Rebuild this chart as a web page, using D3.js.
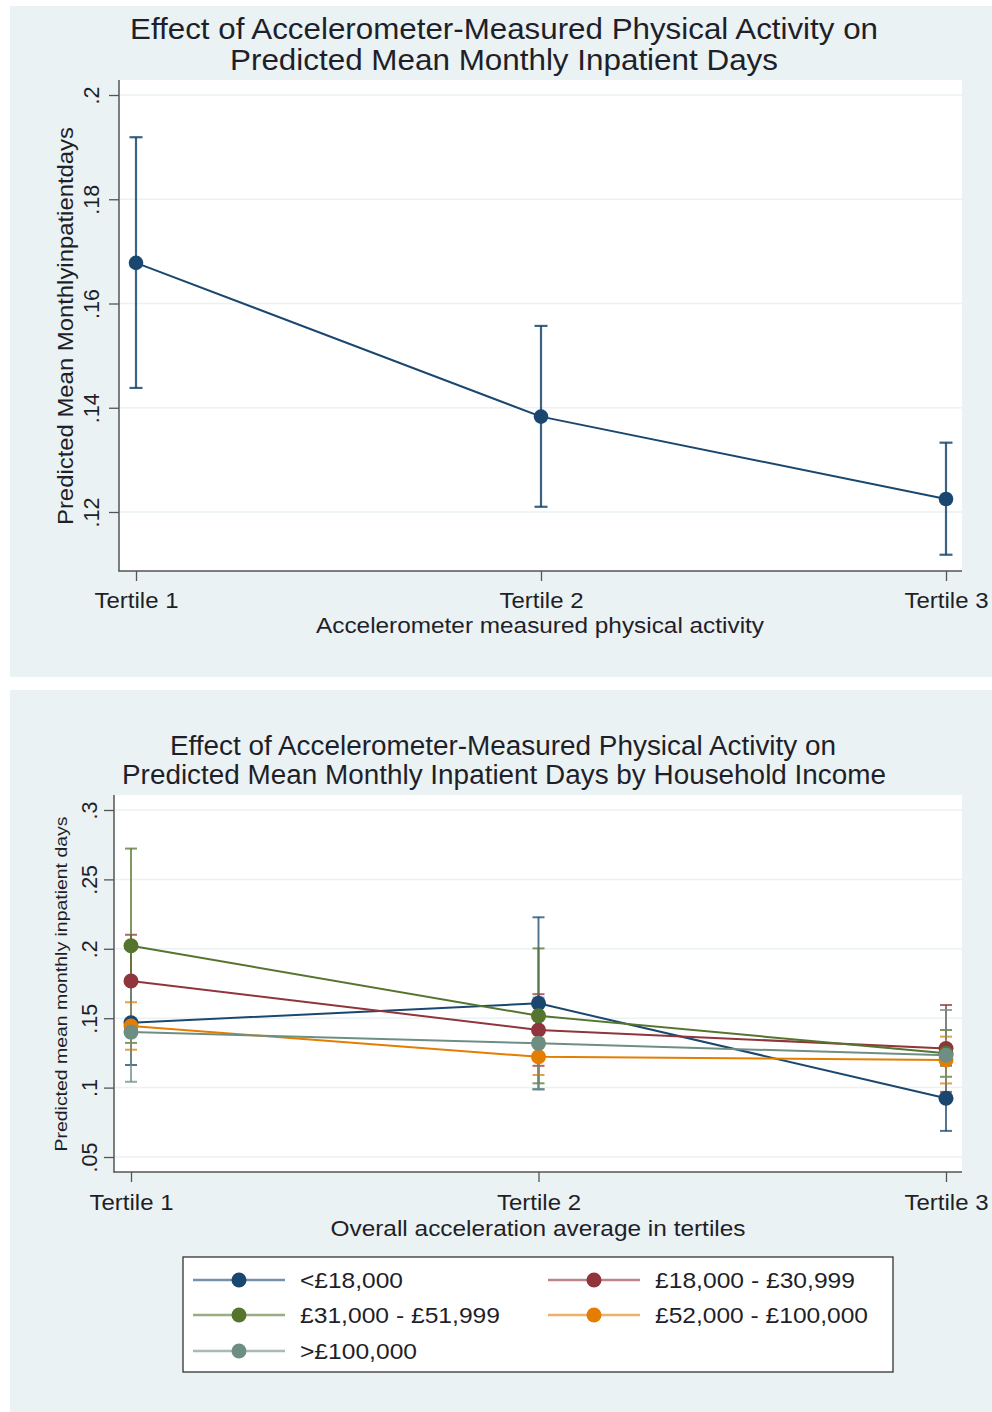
<!DOCTYPE html>
<html>
<head>
<meta charset="utf-8">
<script src="https://cdn.jsdelivr.net/npm/d3@7"></script>
<style>
  html, body { margin: 0; padding: 0; background: #ffffff; }
  svg { display: block; font-family: "Liberation Sans", Arial, sans-serif; }
</style>
</head>
<body>
<svg id="chart" width="992" height="1412"></svg>
<script>
// ---------------- DATA ----------------
const tertiles = ["Tertile 1", "Tertile 2", "Tertile 3"];

// Panel 1: overall
const overallMean = [0.1678, 0.1383, 0.1225];
const overallLo   = [0.1438, 0.1210, 0.1118];
const overallHi   = [0.1919, 0.1557, 0.1333];
const topTicks = [0.12, 0.14, 0.16, 0.18, 0.20];

// Panel 2: by household income
const incomeGroups = ["<£18,000", "£18,000 - £30,999", "£31,000 - £51,999", "£52,000 - £100,000", ">£100,000"];
const meanLt18  = [0.1467, 0.1607, 0.0923];
const mean18_31 = [0.1768, 0.1415, 0.1282];
const mean31_52 = [0.2022, 0.1517, 0.1247];
const mean52_100= [0.1444, 0.1222, 0.1199];
const meanGt100 = [0.1400, 0.1319, 0.1233];
const loLt18  = [0.1163, 0.0987, 0.0688];
const lo18_31 = [0.1435, 0.1157, 0.0969];
const lo31_52 = [0.1322, 0.1031, 0.1078];
const lo52_100= [0.1273, 0.1091, 0.1030];
const loGt100 = [0.1042, 0.0990, 0.0907];
const hiLt18  = [0.1771, 0.2227, 0.1158];
const hi18_31 = [0.2101, 0.1673, 0.1595];
const hi31_52 = [0.2722, 0.2003, 0.1415];
const hi52_100= [0.1615, 0.1353, 0.1367];
const hiGt100 = [0.1758, 0.1648, 0.1559];
const bottomTicks = [0.05, 0.10, 0.15, 0.20, 0.25, 0.30];

// ---------------- STYLE ----------------
const colors = ["#1a476f", "#90353b", "#55752f", "#e37e00", "#6e8e84"];
const bg = "#eaf2f3";
const axisCol = "#555555";
const textCol = "#1f1f2a";

const means = [meanLt18, mean18_31, mean31_52, mean52_100, meanGt100];
const los = [loLt18, lo18_31, lo31_52, lo52_100, loGt100];
const his = [hiLt18, hi18_31, hi31_52, hi52_100, hiGt100];
const series = incomeGroups.map((g, i) => ({
  name: g, color: colors[i],
  pts: tertiles.map((t, j) => ({t, m: means[i][j], lo: los[i][j], hi: his[i][j]}))
}));

const svg = d3.select("#chart");
const fmt = v => { let s = d3.format(".2f")(v).replace(/0+$/, "").replace(/\.$/, ""); return s.replace(/^0\./, "."); };

function fitText(sel, w) {
  sel.attr("textLength", w).attr("lengthAdjust", "spacingAndGlyphs");
  return sel;
}

// ---------------- PANEL BACKGROUNDS ----------------
svg.append("rect").attr("x", 10).attr("y", 6).attr("width", 992).attr("height", 671).attr("fill", bg);
svg.append("rect").attr("x", 10).attr("y", 690).attr("width", 992).attr("height", 722).attr("fill", bg);

function panel(cfg) {
  const g = svg.append("g");
  const {x0, x1, y0, y1} = cfg;
  g.append("rect").attr("x", x0).attr("y", y0).attr("width", x1 - x0).attr("height", y1 - y0).attr("fill", "#ffffff");

  const y = d3.scaleLinear().domain(cfg.yDomain).range([y1, y0]);
  const x = d3.scalePoint().domain(tertiles).range([x0 + 17, x1 - 16]);

  // grid
  g.selectAll(".grid").data(cfg.ticks).join("line")
    .attr("x1", x0 + 1).attr("x2", x1).attr("y1", d => y(d)).attr("y2", d => y(d))
    .attr("stroke", bg).attr("stroke-width", 1.5);

  // y axis
  const ya = g.append("g").attr("transform", `translate(${x0},0)`)
    .call(d3.axisLeft(y).tickValues(cfg.ticks).tickSize(10).tickFormat(fmt));
  ya.select(".domain").remove();
  ya.selectAll(".tick line").attr("stroke", axisCol).attr("stroke-width", 1.3);
  ya.selectAll(".tick text").attr("fill", textCol).attr("font-size", 21.5)
    .attr("text-anchor", "middle").attr("x", 0).attr("dy", 0)
    .attr("transform", `translate(${cfg.tickLabelX - x0},0) rotate(-90)`)
    .attr("font-family", "Liberation Sans, Arial, sans-serif");
  g.append("line").attr("x1", x0).attr("x2", x0).attr("y1", y0).attr("y2", y1 + 0.5)
    .attr("stroke", axisCol).attr("stroke-width", 1.5);

  // x axis
  const xa = g.append("g").attr("transform", `translate(0,${y1})`)
    .call(d3.axisBottom(x).tickSize(10).tickSizeOuter(0));
  xa.select(".domain").remove();
  xa.selectAll(".tick line").attr("stroke", axisCol).attr("stroke-width", 1.3);
  xa.selectAll(".tick text").attr("fill", textCol).attr("font-size", 22)
    .attr("y", cfg.xLabelDy).attr("dy", 0)
    .attr("font-family", "Liberation Sans, Arial, sans-serif")
    .attr("textLength", 84).attr("lengthAdjust", "spacingAndGlyphs");
  g.append("line").attr("x1", x0 - 0.5).attr("x2", x1).attr("y1", y1).attr("y2", y1)
    .attr("stroke", axisCol).attr("stroke-width", 1.5);

  // titles
  cfg.title.forEach((t, i) => {
    fitText(g.append("text").attr("x", t.cx).attr("y", t.y).attr("text-anchor", "middle")
      .attr("font-size", t.size).attr("fill", textCol).text(t.text), t.w);
  });
  fitText(g.append("text").attr("x", cfg.xTitle.cx).attr("y", cfg.xTitle.y).attr("text-anchor", "middle")
    .attr("font-size", cfg.xTitle.size).attr("fill", textCol).text(cfg.xTitle.text), cfg.xTitle.w);
  fitText(g.append("text").attr("transform", `translate(${cfg.yTitle.x},${cfg.yTitle.cy}) rotate(-90)`)
    .attr("text-anchor", "middle").attr("font-size", cfg.yTitle.size).attr("fill", textCol)
    .text(cfg.yTitle.text), cfg.yTitle.w);

  return {g, x, y};
}

// ---------------- PANEL 1 ----------------
{
  const p = panel({
    x0: 119, x1: 962, y0: 80, y1: 571,
    yDomain: [0.10868, 0.20288], ticks: topTicks, tickLabelX: 99, xLabelDy: 37,
    title: [
      {text: "Effect of Accelerometer-Measured Physical Activity on", cx: 504, y: 39, size: 30, w: 748},
      {text: "Predicted Mean Monthly Inpatient Days", cx: 504, y: 70, size: 30, w: 548}
    ],
    xTitle: {text: "Accelerometer measured physical activity", cx: 540, y: 633, size: 22.5, w: 448},
    yTitle: {text: "Predicted Mean Monthlyinpatientdays", x: 73, cy: 326, size: 22, w: 398}
  });
  const pts = tertiles.map((t, j) => ({t, m: overallMean[j], lo: overallLo[j], hi: overallHi[j]}));
  const c = colors[0];
  const ci = p.g.append("g");
  ci.selectAll("line.sp").data(pts).join("line")
    .attr("x1", d => p.x(d.t)).attr("x2", d => p.x(d.t))
    .attr("y1", d => p.y(d.lo)).attr("y2", d => p.y(d.hi))
    .attr("stroke", c).attr("stroke-width", 2.2).attr("stroke-opacity", 0.85);
  ["lo", "hi"].forEach(k => {
    ci.selectAll("line.cap" + k).data(pts).join("line")
      .attr("x1", d => p.x(d.t) - 6.5).attr("x2", d => p.x(d.t) + 6.5)
      .attr("y1", d => p.y(d[k])).attr("y2", d => p.y(d[k]))
      .attr("stroke", c).attr("stroke-width", 2.2).attr("stroke-opacity", 0.85);
  });
  p.g.append("path").datum(pts)
    .attr("d", d3.line().x(d => p.x(d.t)).y(d => p.y(d.m)))
    .attr("fill", "none").attr("stroke", c).attr("stroke-width", 2);
  p.g.selectAll("circle.pt").data(pts).join("circle")
    .attr("cx", d => p.x(d.t)).attr("cy", d => p.y(d.m)).attr("r", 7.3).attr("fill", c);
}

// ---------------- PANEL 2 ----------------
{
  const p = panel({
    x0: 114, x1: 962, y0: 795, y1: 1172,
    yDomain: [0.0392, 0.3108], ticks: bottomTicks, tickLabelX: 97, xLabelDy: 38,
    title: [
      {text: "Effect of Accelerometer-Measured Physical Activity on", cx: 503, y: 755, size: 27, w: 666},
      {text: "Predicted Mean Monthly Inpatient Days by Household Income", cx: 504, y: 784, size: 27, w: 764}
    ],
    xTitle: {text: "Overall acceleration average in tertiles", cx: 538, y: 1236, size: 22, w: 415},
    yTitle: {text: "Predicted mean monthly inpatient days", x: 67, cy: 984, size: 17, w: 335}
  });
  // CIs first
  series.forEach(s => {
    const ci = p.g.append("g");
    ci.selectAll("line.sp").data(s.pts).join("line")
      .attr("x1", d => p.x(d.t)).attr("x2", d => p.x(d.t))
      .attr("y1", d => p.y(d.lo)).attr("y2", d => p.y(d.hi))
      .attr("stroke", s.color).attr("stroke-width", 2).attr("stroke-opacity", 0.75);
    ["lo", "hi"].forEach(k => {
      ci.selectAll("line.cap" + k).data(s.pts).join("line")
        .attr("x1", d => p.x(d.t) - 6).attr("x2", d => p.x(d.t) + 6)
        .attr("y1", d => p.y(d[k])).attr("y2", d => p.y(d[k]))
        .attr("stroke", s.color).attr("stroke-width", 2).attr("stroke-opacity", 0.75);
    });
  });
  series.forEach(s => {
    p.g.append("path").datum(s.pts)
      .attr("d", d3.line().x(d => p.x(d.t)).y(d => p.y(d.m)))
      .attr("fill", "none").attr("stroke", s.color).attr("stroke-width", 2);
    p.g.selectAll(null).data(s.pts).join("circle")
      .attr("cx", d => p.x(d.t)).attr("cy", d => p.y(d.m)).attr("r", 7.5).attr("fill", s.color);
  });

  // legend
  const lg = svg.append("g");
  lg.append("rect").attr("x", 183).attr("y", 1257).attr("width", 710).attr("height", 115)
    .attr("fill", "#ffffff").attr("stroke", "#333333").attr("stroke-width", 1.3);
  const colX = [193, 548], rowY = [1280, 1315, 1351];
  const textW = [103, 200, 200, 213, 117];
  series.forEach((s, i) => {
    const cx = colX[i % 2], cy = rowY[Math.floor(i / 2)];
    lg.append("line").attr("x1", cx).attr("x2", cx + 92).attr("y1", cy).attr("y2", cy)
      .attr("stroke", s.color).attr("stroke-width", 2.5).attr("stroke-opacity", 0.6);
    lg.append("circle").attr("cx", cx + 46).attr("cy", cy).attr("r", 7.5).attr("fill", s.color);
    fitText(lg.append("text").attr("x", cx + 107).attr("y", cy + 8).attr("font-size", 22)
      .attr("fill", textCol).text(s.name), textW[i]);
  });
}
</script>
</body>
</html>
